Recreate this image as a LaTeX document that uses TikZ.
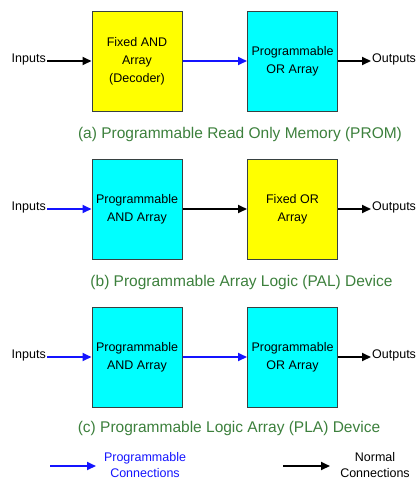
\documentclass[tikz,border=0pt]{standalone}
\usepackage{fontspec}
\setmainfont{Liberation Sans}
\usetikzlibrary{arrows.meta}
\definecolor{capgreen}{RGB}{60,128,60}
\definecolor{boxedge}{RGB}{55,65,65}
\definecolor{progblue}{RGB}{20,20,255}
\definecolor{boxcyan}{RGB}{0,255,255}
\definecolor{boxyellow}{RGB}{255,255,0}
\begin{document}
\begin{tikzpicture}[x=1pt,y=-1pt,
  blk/.style={draw=boxedge,line width=1pt,minimum width=90pt,minimum height=100pt,inner sep=0pt,align=center,font=\fontsize{12.5}{18}\selectfont},
  fixedblk/.style={blk,fill=boxyellow},
  progblk/.style={blk,fill=boxcyan},
  lbl/.style={font=\fontsize{12.5}{17}\selectfont,inner sep=1pt},
  captxt/.style={font=\fontsize{15.5}{18}\selectfont,text=capgreen},
  normarr/.style={line width=2pt,draw=black,-{Triangle[length=9pt,width=8pt]}},
  progarr/.style={line width=2pt,draw=progblue,-{Triangle[length=9pt,width=8pt]}},
]
\useasboundingbox (0,0) rectangle (418,479);
% Row (a)
\node[fixedblk] (a1) at (137,61) {Fixed AND\\Array\\(Decoder)};
\node[progblk] (a2) at (292.5,61) {Programmable\\OR Array};
\node[lbl,anchor=east] (ain) at (47,59) {Inputs};
\node[lbl,anchor=west] (aout) at (371,59) {Outputs};
\draw[normarr] (ain.east |- a1.west) -- (a1.west);
\draw[progarr] (a1.east) -- (a2.west);
\draw[normarr] (a2.east) -- (aout.west |- a2.east);
\node[captxt] (capa) at (240,134) {(a) Programmable Read Only Memory (PROM)};
% Row (b)
\node[progblk] (b1) at (137,209) {Programmable\\AND Array};
\node[fixedblk] (b2) at (292.5,209) {Fixed OR\\Array};
\node[lbl,anchor=east] (bin) at (47,207) {Inputs};
\node[lbl,anchor=west] (bout) at (371,207) {Outputs};
\draw[progarr] (bin.east |- b1.west) -- (b1.west);
\draw[normarr] (b1.east) -- (b2.west);
\draw[normarr] (b2.east) -- (bout.west |- b2.east);
\node[captxt] (capb) at (241.5,282) {(b) Programmable Array Logic (PAL) Device};
% Row (c)
\node[progblk] (c1) at (137,357) {Programmable\\AND Array};
\node[progblk] (c2) at (292.5,357) {Programmable\\OR Array};
\node[lbl,anchor=east] (cin) at (47,355) {Inputs};
\node[lbl,anchor=west] (cout) at (371,355) {Outputs};
\draw[progarr] (cin.east |- c1.west) -- (c1.west);
\draw[progarr] (c1.east) -- (c2.west);
\draw[normarr] (c2.east) -- (cout.west |- c2.east);
\node[captxt] (capc) at (229,428) {(c) Programmable Logic Array (PLA) Device};
% Legend
\coordinate (lp1) at (50,466);
\coordinate (lp2) at (96,466);
\draw[progarr] (lp1) -- (lp2);
\node[lbl,align=center,text=progblue,font=\fontsize{12.5}{16}\selectfont] (lpt) at (145,465) {Programmable\\Connections};
\coordinate (ln1) at (283,466);
\coordinate (ln2) at (330,466);
\draw[normarr] (ln1) -- (ln2);
\node[lbl,align=center,font=\fontsize{12.5}{16}\selectfont] (lnt) at (375,465) {Normal\\Connections};
\end{tikzpicture}
\end{document}
